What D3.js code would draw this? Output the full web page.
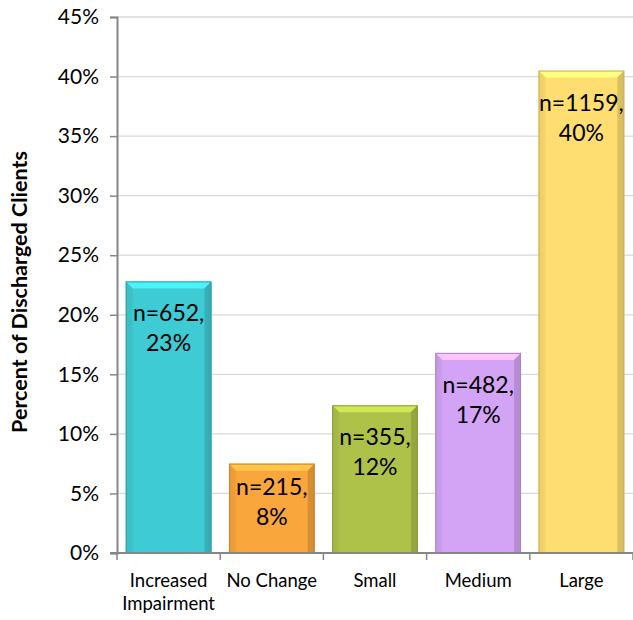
<!DOCTYPE html>
<html>
<head>
<meta charset="utf-8">
<script src="https://cdn.jsdelivr.net/npm/d3@7"></script>
<style>
  body { margin: 0; background: #fff; }
  svg { display: block; font-family: Lato, "Noto Sans", sans-serif; }
</style>
</head>
<body>
<div id="io"></div>
<script>
const categories = ['Increased Impairment', 'No Change', 'Small', 'Medium', 'Large'];
const counts = [652, 215, 355, 482, 1159];
const percents = [22.8, 7.5, 12.4, 16.8, 40.5];
const percentLabels = ['23%', '8%', '12%', '17%', '40%'];
const barColors = ['#3fcbd3', '#f9a63c', '#aec24a', '#d3a4f6', '#fede70'];
const yTicks = [0, 5, 10, 15, 20, 25, 30, 35, 40, 45];

const W = 633, H = 620;
const m = { top: 17, right: 0, bottom: 67, left: 117 };

const svg = d3.select('#io').append('svg').attr('width', W).attr('height', H);

const x = d3.scaleBand().domain(categories)
  .range([m.left, W - m.right]).paddingInner(0.17).paddingOuter(0.085);
const y = d3.scaleLinear().domain([0, 45]).range([H - m.bottom, m.top]);

// grid
svg.append('g').selectAll('line').data(yTicks.slice(1)).enter().append('line')
  .attr('x1', m.left).attr('x2', W - m.right)
  .attr('y1', d => y(d)).attr('y2', d => y(d))
  .attr('stroke', '#d9d9d9').attr('stroke-width', 1.3);

const defs = svg.append('defs');

const bars = svg.append('g').selectAll('g').data(categories).enter().append('g');

bars.each(function (c, i) {
  const g = d3.select(this);
  const x0 = x(c), bw = x.bandwidth();
  const y0 = y(percents[i]), y1 = y(0);
  const col = d3.color(barColors[i]);
  const gid = 'grad' + i;
  const gr = defs.append('linearGradient').attr('id', gid).attr('x1', 0).attr('x2', 1).attr('y1', 0).attr('y2', 0);
  gr.append('stop').attr('offset', 0).attr('stop-color', col.darker(0.35));
  gr.append('stop').attr('offset', 0.08).attr('stop-color', col);
  gr.append('stop').attr('offset', 0.92).attr('stop-color', col);
  gr.append('stop').attr('offset', 1).attr('stop-color', col.darker(0.45));
  g.append('rect').attr('x', x0).attr('y', y0).attr('width', bw).attr('height', y1 - y0)
    .attr('fill', `url(#${gid})`);
  const b = 7;
  // top bevel
  g.append('polygon')
    .attr('points', [[x0, y0], [x0 + bw, y0], [x0 + bw - b, y0 + b], [x0 + b, y0 + b]].join(' '))
    .attr('fill', col.brighter(0.5));
  // left bevel
  g.append('polygon')
    .attr('points', [[x0, y0], [x0 + b, y0 + b], [x0 + b, y1], [x0, y1]].join(' '))
    .attr('fill', col.darker(0.15)).attr('opacity', 0.7);
  // right bevel
  g.append('polygon')
    .attr('points', [[x0 + bw, y0], [x0 + bw - b, y0 + b], [x0 + bw - b, y1], [x0 + bw, y1]].join(' '))
    .attr('fill', col.darker(0.5)).attr('opacity', 0.8);
  g.append('rect').attr('x', x0 + 0.5).attr('y', y0 + 0.5).attr('width', bw - 1).attr('height', y1 - y0 - 1)
    .attr('fill', 'none').attr('stroke', col.darker(0.6)).attr('stroke-width', 1);

  // labels
  const h = y1 - y0;
  const base = y0 + Math.min(40, h / 2 - 13);
  const t = g.append('text').attr('text-anchor', 'middle').attr('font-size', 23).attr('fill', '#000');
  t.append('tspan').attr('x', x0 + bw / 2).attr('y', base).text(`n=${counts[i]},`);
  t.append('tspan').attr('x', x0 + bw / 2).attr('y', base + 30).text(percentLabels[i]);
});

// y axis
const yAxis = svg.append('g').attr('transform', `translate(${m.left},0)`)
  .call(d3.axisLeft(y).tickValues(yTicks).tickFormat(d => d + '%').tickSize(7).tickPadding(11));
yAxis.select('.domain').attr('stroke', '#868686').attr('stroke-width', 2);
yAxis.selectAll('.tick line').attr('stroke', '#868686').attr('stroke-width', 1.5);
yAxis.selectAll('.tick text').attr('font-size', 21).attr('fill', '#000')
  .attr('font-family', 'Lato, "Noto Sans", sans-serif');

// x axis
const xAxisG = svg.append('g').attr('transform', `translate(0,${y(0)})`);
xAxisG.append('line').attr('x1', m.left - 7).attr('x2', W - m.right)
  .attr('stroke', '#868686').attr('stroke-width', 2);
const step = x.step();
const bounds = d3.range(categories.length + 1).map(k => m.left + k * step);
xAxisG.selectAll('.xt').data(bounds).enter().append('line')
  .attr('x1', d => d).attr('x2', d => d).attr('y1', 0).attr('y2', 7)
  .attr('stroke', '#868686').attr('stroke-width', 1.5);
const xl = xAxisG.selectAll('.xl').data(categories).enter().append('text')
  .attr('text-anchor', 'middle').attr('font-size', 18.5).attr('fill', '#000');
xl.each(function (c) {
  const words = c === 'Increased Impairment' ? ['Increased', 'Impairment'] : [c];
  const t = d3.select(this);
  words.forEach((w, k) => {
    t.append('tspan').attr('x', x(c) + x.bandwidth() / 2).attr('y', 34 + k * 23).text(w);
  });
});

// y title
svg.append('text')
  .attr('transform', `translate(27,292) rotate(-90)`)
  .attr('text-anchor', 'middle').attr('font-size', 21.5).attr('font-weight', 'bold')
  .text('Percent of Discharged Clients');
</script>
</body>
</html>
